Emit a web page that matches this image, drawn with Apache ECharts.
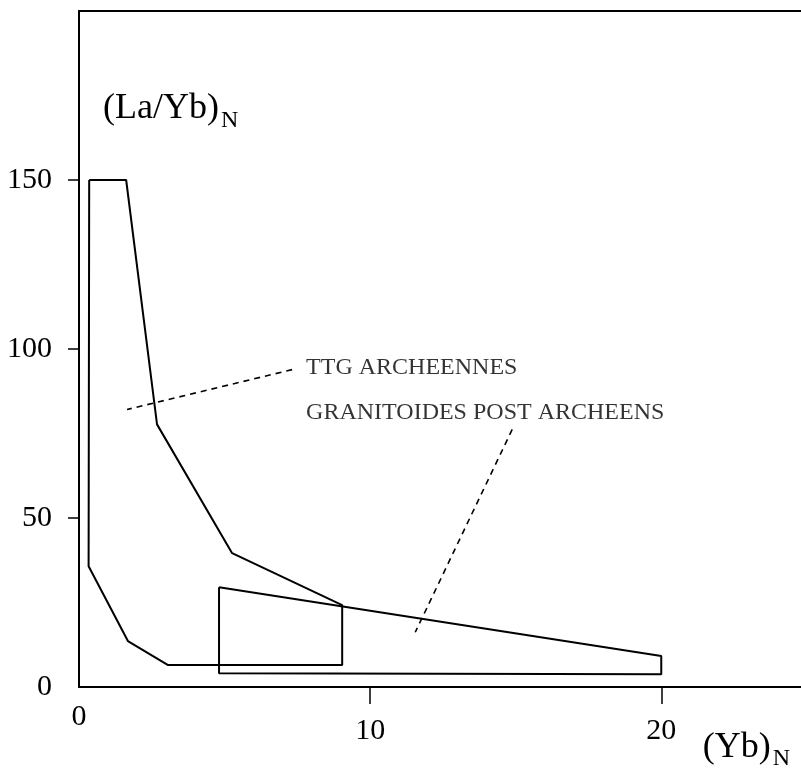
<!DOCTYPE html>
<html lang="fr">
<head>
    <meta charset="utf-8"/>
    <title>(La/Yb)N vs (Yb)N</title>
    <script src="https://cdn.jsdelivr.net/npm/echarts@6/dist/echarts.min.js"></script>
</head>
<body style="margin: 0;">
<div id="chart" style="width: 801px;height: 771px;"></div>

<script type="text/javascript">
    // contour des TTG archeennes [Yb_N, (La/Yb)_N]
    const ttgOutline = [
        [0.35, 150], [1.62, 150], [2.68, 77.7], [5.26, 39.6], [9.04, 24.2],
        [9.04, 6.5], [3.06, 6.5], [1.68, 13.6], [0.33, 35.7], [0.35, 150]
    ];
    // contour des granitoides post archeens
    const postOutline = [
        [4.81, 29.5], [20, 9.2], [20, 3.8], [4.81, 4.1], [4.81, 29.5]
    ];
    // traits de rappel (pointilles)
    const ttgLeader = [[7.32, 93.9], [1.65, 82.1]];
    const postLeader = [[14.88, 76.2], [11.55, 16.2]];
    // etiquettes
    const labelNames = ['TTG ARCHEENNES', 'GRANITOIDES POST ARCHEENS'];
    const labelPos = [[7.8, 94.5], [7.8, 81.2]];
    const xTicks = [10, 20];
    const xLabels = [10, 20];
    const yTicks = [50, 100, 150];
    const yLabels = [0, 50, 100, 150];

    const font = '"Liberation Serif", "Times New Roman", serif';
    const black = '#000';

    let chart = echarts.init(document.getElementById('chart'));
    chart.setOption({
        animation: false,
        grid: {left: 79, right: 0, top: 11, bottom: 83},
        xAxis: [
            {
                type: 'value',
                min: 0,
                max: 24.8,
                interval: 10,
                position: 'bottom',
                name: '(Yb){sub|N}',
                nameLocation: 'end',
                nameGap: -11,
                nameTextStyle: {
                    fontFamily: font, fontSize: 36, color: black,
                    align: 'right', verticalAlign: 'top', padding: [38, 0, 0, 0],
                    rich: {sub: {fontFamily: font, fontSize: 24, color: black, verticalAlign: 'bottom', padding: [22, 0, 0, 2]}}
                },
                axisLine: {lineStyle: {color: black, width: 2}},
                axisTick: {show: true, length: 17, customValues: xTicks, lineStyle: {color: black, width: 1.5}},
                axisLabel: {customValues: xLabels, margin: 29, fontFamily: font, fontSize: 30, color: black},
                splitLine: {show: false}
            },
            {
                // ligne du haut du cadre
                type: 'value',
                min: 0,
                max: 24.8,
                position: 'top',
                axisLine: {show: true, lineStyle: {color: black, width: 2}},
                axisTick: {show: false},
                axisLabel: {show: false},
                splitLine: {show: false}
            },
            {
                // le "0" de l'axe x est un peu plus haut
                type: 'value',
                min: 0,
                max: 24.8,
                position: 'bottom',
                offset: -14,
                axisLine: {show: false},
                axisTick: {show: false},
                axisLabel: {customValues: [0], margin: 29, fontFamily: font, fontSize: 30, color: black},
                splitLine: {show: false}
            }
        ],
        yAxis: {
            type: 'value',
            min: 0,
            max: 200,
            interval: 50,
            name: '(La/Yb){sub|N}',
            nameLocation: 'end',
            nameGap: -74,
            nameTextStyle: {
                fontFamily: font, fontSize: 36, color: black,
                align: 'left', verticalAlign: 'top', padding: [0, 0, 0, 24],
                rich: {sub: {fontFamily: font, fontSize: 24, color: black, verticalAlign: 'bottom', padding: [24, 0, 0, 2]}}
            },
            axisLine: {lineStyle: {color: black, width: 2}},
            axisTick: {show: true, length: 11, customValues: yTicks, lineStyle: {color: black, width: 1.5}},
            axisLabel: {customValues: yLabels, margin: 27, fontFamily: font, fontSize: 30, color: black},
            splitLine: {show: false}
        },
        series: [
            {
                name: 'TTG ARCHEENNES',
                type: 'line',
                data: ttgOutline,
                symbol: 'none',
                lineStyle: {color: black, width: 2}
            },
            {
                name: 'GRANITOIDES POST ARCHEENS',
                type: 'line',
                data: postOutline,
                symbol: 'none',
                lineStyle: {color: black, width: 2}
            },
            {
                type: 'line',
                data: ttgLeader,
                symbol: 'none',
                lineStyle: {color: black, width: 1.6, type: [6, 5]}
            },
            {
                type: 'line',
                data: postLeader,
                symbol: 'none',
                lineStyle: {color: black, width: 1.6, type: [6, 5]}
            },
            {
                type: 'scatter',
                symbolSize: 0,
                data: labelPos.map(function (p, i) {
                    return {name: labelNames[i], value: p};
                }),
                label: {
                    show: true,
                    position: 'inside',
                    align: 'left',
                    verticalAlign: 'middle',
                    formatter: '{b}',
                    fontFamily: font,
                    fontSize: 24,
                    color: black,
                    textBorderWidth: 0
                }
            }
        ]
    });
</script>
</body>
</html>
